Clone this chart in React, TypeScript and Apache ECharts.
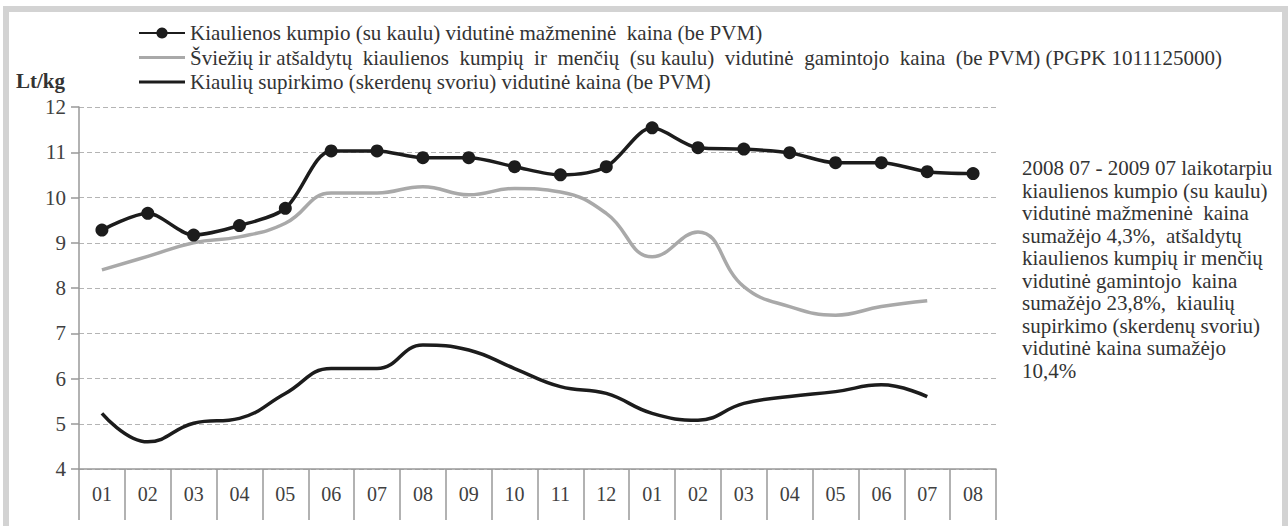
import React, { useEffect, useRef } from "react";
import * as echarts from "echarts";

const categories = ["01", "02", "03", "04", "05", "06", "07", "08", "09", "10", "11", "12", "01", "02", "03", "04", "05", "06", "07", "08"];
const retailPrice = [9.28, 9.65, 9.17, 9.38, 9.76, 11.03, 11.03, 10.88, 10.88, 10.68, 10.5, 10.68, 11.54, 11.1, 11.07, 10.99, 10.77, 10.77, 10.57, 10.53];
const producerPrice = [8.4, 8.7, 9.0, 9.13, 9.43, 10.1, 10.1, 10.24, 10.06, 10.2, 10.12, 9.65, 8.69, 9.24, 8.03, 7.59, 7.4, 7.59, 7.72];
const purchasePrice = [5.23, 4.6, 5.01, 5.12, 5.67, 6.22, 6.22, 6.74, 6.63, 6.22, 5.82, 5.67, 5.23, 5.08, 5.45, 5.6, 5.71, 5.86, 5.6];

const seriesNames = [
  "Kiaulienos kumpio (su kaulu) vidutinė mažmeninė  kaina (be PVM)",
  "Šviežių ir atšaldytų  kiaulienos  kumpių  ir  menčių  (su kaulu)  vidutinė  gamintojo  kaina  (be PVM) (PGPK 1011125000)",
  "Kiaulių supirkimo (skerdenų svoriu) vidutinė kaina (be PVM)",
];

const noteLines = [
  "2008 07 - 2009 07 laikotarpiu",
  "kiaulienos kumpio (su kaulu)",
  "vidutinė mažmeninė  kaina",
  "sumažėjo 4,3%,  atšaldytų",
  "kiaulienos kumpių ir menčių",
  "vidutinė gamintojo  kaina",
  "sumažėjo 23,8%,  kiaulių",
  "supirkimo (skerdenų svoriu)",
  "vidutinė kaina sumažėjo",
  "10,4%",
];

const FONT = "Liberation Serif, serif";
const BAR_ICON = "path://M0,0 L0.01,0 L0.01,0.01 Z M0,5.5 L46,5.5 L46,8.5 L0,8.5 Z M0,14 L0.01,14 L0.01,13.99 Z";

export default function App() {
  const ref = useRef<HTMLDivElement>(null);
  useEffect(() => {
    if (!ref.current) return;
    const chart = echarts.init(ref.current, undefined, { renderer: "svg" });
    const frame = "#d3d3d3";
    chart.setOption({
      animation: false,
      backgroundColor: "#ffffff",
      textStyle: { fontFamily: FONT },
      grid: { left: 79, right: 292, top: 107, bottom: 57, containLabel: false },
      legend: {
        orient: "vertical",
        left: 138,
        top: 22.5,
        padding: 0,
        itemWidth: 46,
        itemHeight: 14,
        itemGap: 3.5,
        textStyle: { fontFamily: FONT, fontSize: 21, color: "#333333" },
        data: [
          { name: seriesNames[0] },
          { name: seriesNames[1], icon: BAR_ICON, itemStyle: { color: "#a9a9a9", borderWidth: 0 } },
          { name: seriesNames[2], icon: BAR_ICON, itemStyle: { color: "#1c1c1c", borderWidth: 0 } },
        ],
      },
      xAxis: {
        type: "category",
        data: categories,
        boundaryGap: true,
        axisLine: { show: true, lineStyle: { color: "#999999", width: 1.5 } },
        axisTick: { show: true, interval: 0, length: 51, lineStyle: { color: "#999999", width: 1.5 } },
        axisLabel: { interval: 0, margin: 15, fontFamily: FONT, fontSize: 20, color: "#404040" },
        splitLine: { show: false },
      },
      yAxis: {
        type: "value",
        min: 4,
        max: 12,
        interval: 1,
        name: "Lt/kg",
        nameLocation: "end",
        nameGap: 16,
        nameTextStyle: { fontFamily: FONT, fontSize: 21, fontWeight: "bold", color: "#333333", align: "right", padding: [0, 14, 0, 0] },
        axisLine: { show: true, lineStyle: { color: "#999999", width: 1.5 } },
        axisTick: { show: true, length: 8, lineStyle: { color: "#999999", width: 1.5 } },
        axisLabel: { margin: 13, fontFamily: FONT, fontSize: 21, color: "#404040" },
        splitLine: { show: true, lineStyle: { color: "#b4b4b4", type: [5, 3], width: 1.2 } },
      },
      series: [
        {
          name: seriesNames[0],
          type: "line",
          data: retailPrice,
          symbol: "circle",
          symbolSize: 13,
          smooth: 0.3,
          itemStyle: { color: "#1c1c1c" },
          lineStyle: { color: "#1c1c1c", width: 3.5 },
          z: 5,
        },
        {
          name: seriesNames[1],
          type: "line",
          data: producerPrice,
          symbol: "none",
          smooth: 0.45,
          itemStyle: { color: "#a9a9a9" },
          lineStyle: { color: "#a9a9a9", width: 3.5 },
          z: 3,
        },
        {
          name: seriesNames[2],
          type: "line",
          data: purchasePrice,
          symbol: "none",
          smooth: 0.45,
          itemStyle: { color: "#1c1c1c" },
          lineStyle: { color: "#1c1c1c", width: 3.5 },
          z: 4,
        },
      ],
      graphic: [
        { type: "rect", shape: { x: 3, y: 6, width: 1285, height: 6 }, style: { fill: frame }, silent: true },
        { type: "rect", shape: { x: 3, y: 6, width: 6, height: 520 }, style: { fill: frame }, silent: true },
        { type: "rect", shape: { x: 1282, y: 6, width: 6, height: 520 }, style: { fill: frame }, silent: true },
        {
          type: "text",
          left: 1022,
          top: 157,
          style: {
            text: noteLines.join("\n"),
            fontFamily: FONT,
            fontSize: 21,
            lineHeight: 22.5,
            fill: "#333333",
          },
          silent: true,
        },
      ],
    });
    return () => chart.dispose();
  }, []);
  return <div ref={ref} style={{ position: "absolute", left: 0, top: 0, width: 1288, height: 526 }} />;
}
